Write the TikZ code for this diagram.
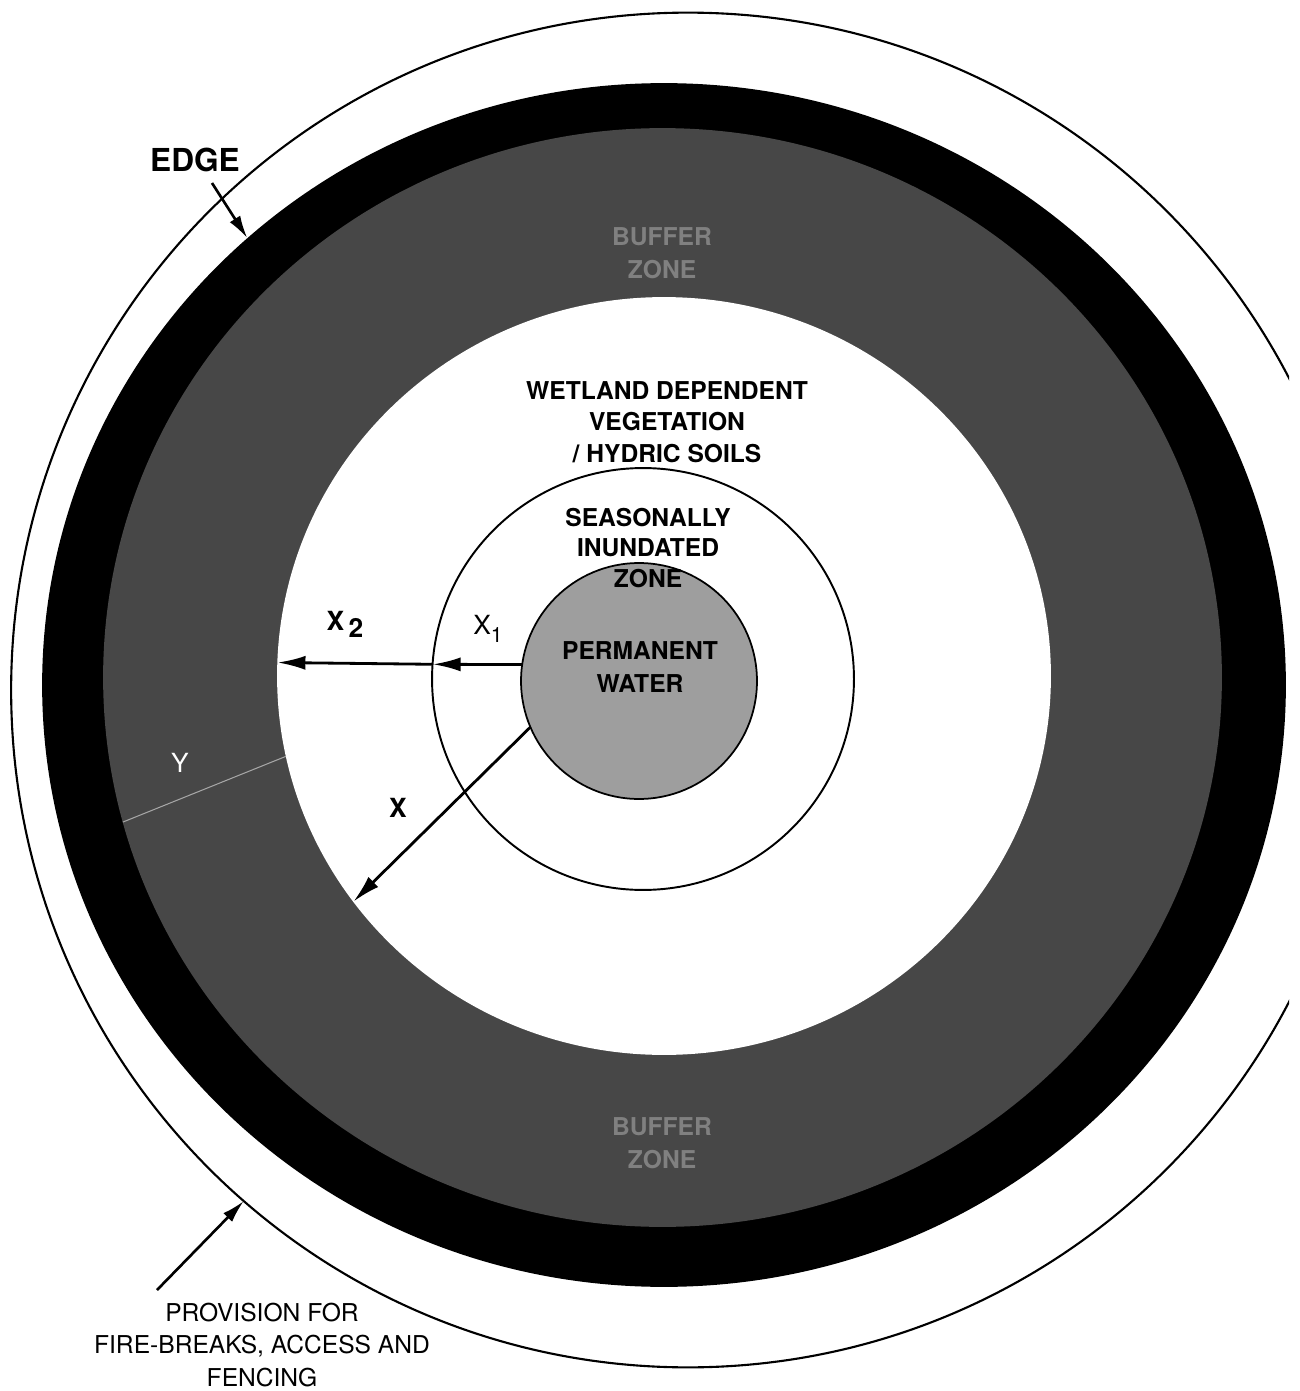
\documentclass[tikz,border=0pt]{standalone}
\usepackage{fontspec}
\setmainfont{TeX Gyre Heros}
\usetikzlibrary{arrows.meta, positioning, shapes.geometric}

\definecolor{buffergray}{gray}{0.28}
\definecolor{watergray}{gray}{0.62}

\tikzset{
	ring/.style={ellipse, inner sep=0pt, outer sep=0pt},
	zonetext/.style={align=center, font=\fontsize{14}{17.9}\selectfont\bfseries},
	pointer/.style={draw, line width=1.5pt, -{Latex[length=13pt,width=7pt]}},
	dimarrow/.style={draw, line width=1.6pt, -{Latex[length=16pt,width=8pt]}},
}

\begin{document}
\begin{tikzpicture}[x=0.02cm, y=-0.02cm]
	\fill[white] (0,0) rectangle (1299,1391);
	\useasboundingbox (0,0) rectangle (1299,1391);
	% rings, cut off on the right like the scan
	\begin{scope}
		\clip (0,0) rectangle (1289,1391);
		\node[ring, draw, line width=1.2pt, fill=white, minimum width=27.08cm, minimum height=27.1cm] (fence) at (688,690) {};
		\node[ring, fill=black, minimum width=24.88cm, minimum height=24.08cm] (edge) at (664,685) {};
		\node[ring, fill=buffergray, minimum width=22.38cm, minimum height=21.98cm] (buffer) at (662.5,677.5) {};
		\node[ring, fill=white, minimum width=15.48cm, minimum height=15.16cm] (wetland) at (664,676) {};
	\end{scope}
	\node[ring, draw, line width=1.1pt, minimum size=8.44cm] (season) at (643,679) {};
	\node[ring, draw, line width=1pt, fill=watergray, minimum size=4.72cm] (perm) at (639,681) {};

	% labels
	\node[font=\fontsize{18}{20}\selectfont\bfseries] (edgelbl) at (195,160) {EDGE};
	\node[zonetext, text=black!50, font=\fontsize{14}{18.7}\selectfont\bfseries] (buftop) at (662,253) {BUFFER\\ZONE};
	\node[zonetext, text=black!50, font=\fontsize{14}{18.7}\selectfont\bfseries] (bufbot) at (662,1143) {BUFFER\\ZONE};
	\node[zonetext] (wetlbl) at (667,422) {WETLAND DEPENDENT\\VEGETATION\\/ HYDRIC SOILS};
	\node[zonetext, font=\fontsize{14}{17.6}\selectfont\bfseries] (seasonlbl) at (648,548) {SEASONALLY\\INUNDATED\\ZONE};
	\node[zonetext, font=\fontsize{14}{18.7}\selectfont\bfseries] (permlbl) at (640,667) {PERMANENT\\WATER};
	\node[font=\fontsize{15}{16}\selectfont\bfseries] (xtwo) at (345,624) {X\,\raisebox{-0.5ex}{2}};
	\node[font=\fontsize{15}{16}\selectfont] (xone) at (488,629) {X\raisebox{-0.6ex}{\fontsize{12}{12}\selectfont 1}};
	\node[font=\fontsize{15}{16}\selectfont\bfseries] (xlbl) at (398,808) {X};
	\node[font=\fontsize{15}{16}\selectfont, text=white] (ylbl) at (180,763) {Y};
	\node[align=center, font=\fontsize{14}{18.4}\selectfont] (provlbl) at (262,1345) {PROVISION FOR\\FIRE-BREAKS, ACCESS AND\\FENCING};

	% connectors
	\coordinate (edgetail) at (212,183);
	\coordinate (fencetail) at (157,1290);
	\draw[pointer] (edgetail) -- (edge.133);
	\draw[pointer] (fencetail) -- (fence.229);
	\draw[dimarrow] (perm.172) -- (season.176);
	\draw[dimarrow] (season.176) -- (wetland.178);
	\draw[dimarrow] (perm.203) -- (wetland.216);
	\draw[gray!70, line width=0.6pt] (buffer.195) -- (wetland.192);
\end{tikzpicture}
\end{document}
